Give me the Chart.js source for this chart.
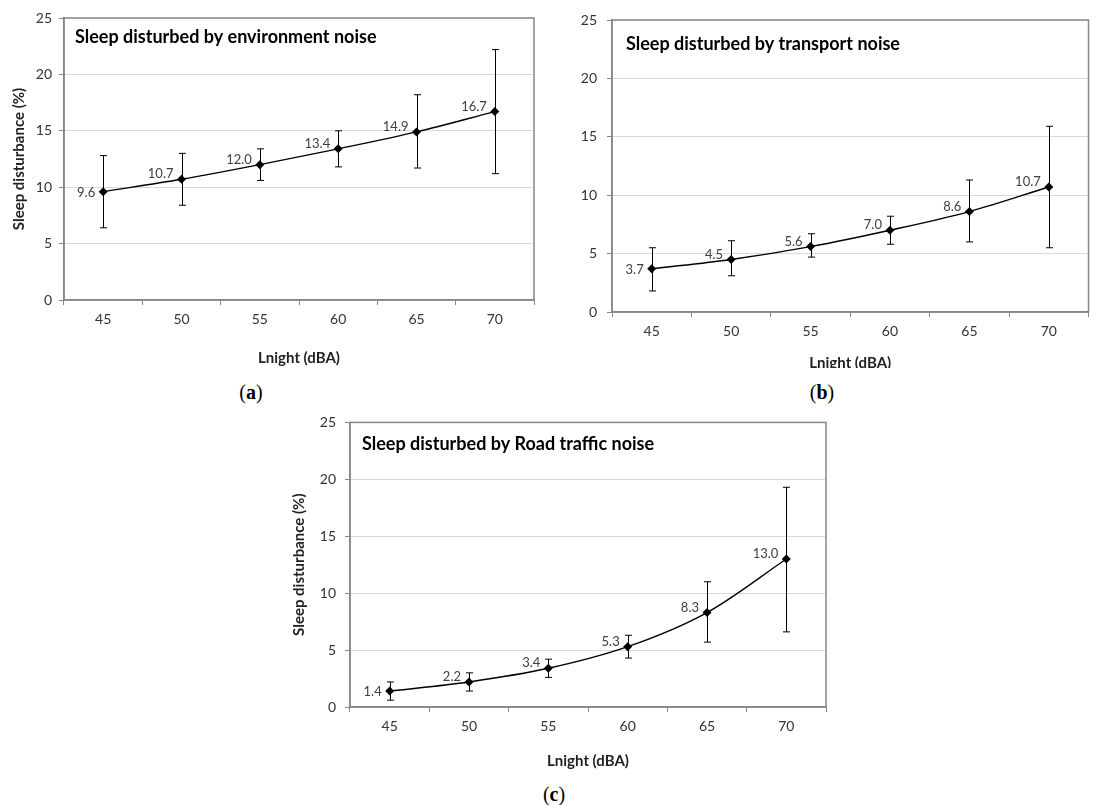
<!DOCTYPE html>
<html>
<head>
<meta charset="utf-8">
<script src="https://cdn.jsdelivr.net/npm/chart.js@4.4.1/dist/chart.umd.min.js"></script>
<style>
  body { margin: 0; background: #fff; width: 1093px; height: 805px; position: relative; overflow: hidden; }
  .box { position: absolute; overflow: hidden; }
  .cap { position: absolute; font-family: "Liberation Serif", "DejaVu Serif", serif; font-size: 20px; transform: translate(-50%, -50%); color: #000; }
</style>
</head>
<body>
<div class="box" style="left:0;top:0;width:560px;height:378px"><canvas id="envChart" width="560" height="378"></canvas></div>
<div class="box" style="left:540px;top:0;width:553px;height:368px"><canvas id="transportChart" width="553" height="378"></canvas></div>
<div class="box" style="left:280px;top:405px;width:560px;height:375px"><canvas id="roadChart" width="560" height="375"></canvas></div>
<div class="cap" style="left:251px;top:392px">(<b>a</b>)</div>
<div class="cap" style="left:822px;top:392px">(<b>b</b>)</div>
<div class="cap" style="left:554px;top:794px">(<b>c</b>)</div>
<script>
'use strict';

const noiseLevels = ['45', '50', '55', '60', '65', '70'];

const envValues = [9.6, 10.7, 12.0, 13.4, 14.9, 16.7];
const envHigh = [12.8, 13.0, 13.4, 15.0, 18.2, 22.2];
const envLow = [6.4, 8.4, 10.6, 11.8, 11.7, 11.2];

const transportValues = [3.7, 4.5, 5.6, 7.0, 8.6, 10.7];
const transportHigh = [5.5, 6.1, 6.7, 8.2, 11.3, 15.9];
const transportLow = [1.8, 3.1, 4.7, 5.8, 6.0, 5.5];

const roadValues = [1.4, 2.2, 3.4, 5.3, 8.3, 13.0];
const roadHigh = [2.2, 3.0, 4.2, 6.3, 11.0, 19.3];
const roadLow = [0.6, 1.4, 2.6, 4.3, 5.7, 6.6];

const FONT = 'Lato, "Open Sans", sans-serif';
const AXIS_GRAY = '#868686';

// error bars, data labels, inner title and the plot frame
const extrasPlugin = {
  id: 'extras',
  beforeDatasetsDraw(chart, args, opts) {
    const {ctx, scales: {x, y}} = chart;
    ctx.save();
    ctx.strokeStyle = '#000';
    ctx.lineWidth = 1;
    opts.high.forEach((hi, i) => {
      const px = Math.round(x.getPixelForValue(i)) + 0.5;
      const yHi = y.getPixelForValue(hi);
      const yLo = y.getPixelForValue(opts.low[i]);
      ctx.beginPath();
      ctx.moveTo(px, yLo); ctx.lineTo(px, yHi);
      ctx.moveTo(px - 3.5, yLo); ctx.lineTo(px + 3.5, yLo);
      ctx.moveTo(px - 3.5, yHi); ctx.lineTo(px + 3.5, yHi);
      ctx.stroke();
    });
    ctx.restore();
  },
  afterDatasetsDraw(chart, args, opts) {
    const {ctx, chartArea: a} = chart;
    const meta = chart.getDatasetMeta(0);
    const values = chart.data.datasets[0].data;
    ctx.save();
    ctx.font = '13px ' + FONT;
    ctx.fillStyle = '#404040';
    ctx.textAlign = 'right';
    ctx.textBaseline = 'middle';
    meta.data.forEach((pt, i) => {
      const dy = i === 0 ? 1 : -5;
      ctx.fillText(values[i].toFixed(1), pt.x - 8, pt.y + dy);
    });
    ctx.font = 'bold 18px ' + FONT;
    ctx.fillStyle = '#000';
    ctx.textAlign = 'left';
    ctx.fillText(opts.title, a.left + opts.titleDx, a.top + opts.titleDy);
    ctx.strokeStyle = AXIS_GRAY;
    ctx.lineWidth = 1.5;
    ctx.strokeRect(a.left, a.top, a.right - a.left, a.bottom - a.top);
    ctx.restore();
  }
};

function makeChart(id, values, high, low, title, g) {
  const cv = document.getElementById(id);
  return new Chart(cv, {
    type: 'line',
    data: {
      labels: noiseLevels,
      datasets: [{
        data: values,
        borderColor: '#000',
        borderWidth: 1.4,
        backgroundColor: '#000',
        pointStyle: 'rectRot',
        pointRadius: 4.5,
        pointBorderWidth: 0,
        cubicInterpolationMode: 'monotone',
      }]
    },
    options: {
      responsive: false,
      animation: false,
      layout: { padding: { left: 0, top: g.top, right: cv.width - g.right, bottom: 0 } },
      plugins: {
        legend: { display: false },
        tooltip: { enabled: false },
        extras: { high: high, low: low, title: title, titleDx: g.titleDx, titleDy: g.titleDy },
      },
      scales: {
        x: {
          offset: true,
          afterFit: (s) => { s.height = cv.height - g.bottom; },
          grid: { offset: true, drawOnChartArea: false, tickLength: 5, tickColor: AXIS_GRAY },
          border: { color: AXIS_GRAY, width: 1.5 },
          ticks: { color: '#333', padding: 6, font: { family: FONT, size: 14 } },
          title: {
            display: true,
            text: 'Lnight (dBA)',
            color: '#222',
            font: { family: FONT, size: 15, weight: 'bold' },
            padding: { top: 0, bottom: g.xTitlePad },
          },
        },
        y: {
          min: 0,
          max: 25,
          afterFit: (s) => { s.width = g.left; },
          grid: { color: '#d9d9d9', tickLength: 5, tickColor: AXIS_GRAY },
          border: { color: AXIS_GRAY, width: 1.5 },
          ticks: { stepSize: 5, color: '#333', padding: g.yTickPad, font: { family: FONT, size: 14 } },
          title: {
            display: g.yTitle,
            text: 'Sleep disturbance (%)',
            color: '#222',
            font: { family: FONT, size: 15, weight: 'bold' },
            padding: { top: g.yTitlePad, bottom: 0 },
          },
        }
      }
    },
    plugins: [extrasPlugin]
  });
}

makeChart('envChart', envValues, envHigh, envLow, 'Sleep disturbed by environment noise',
  { left: 64, top: 18, right: 534, bottom: 300, yTitle: true, yTitlePad: 10, xTitlePad: 11, yTickPad: 7, titleDx: 11, titleDy: 19 });
makeChart('transportChart', transportValues, transportHigh, transportLow, 'Sleep disturbed by transport noise',
  { left: 72, top: 20, right: 552, bottom: 312, yTitle: false, yTitlePad: 0, xTitlePad: 6, yTickPad: 10, titleDx: 14, titleDy: 24 });
makeChart('roadChart', roadValues, roadHigh, roadLow, 'Sleep disturbed by Road traffic noise',
  { left: 70, top: 11, right: 546, bottom: 302, yTitle: true, yTitlePad: 10, xTitlePad: 10, yTickPad: 9, titleDx: 12, titleDy: 22 });
</script>
</body>
</html>
